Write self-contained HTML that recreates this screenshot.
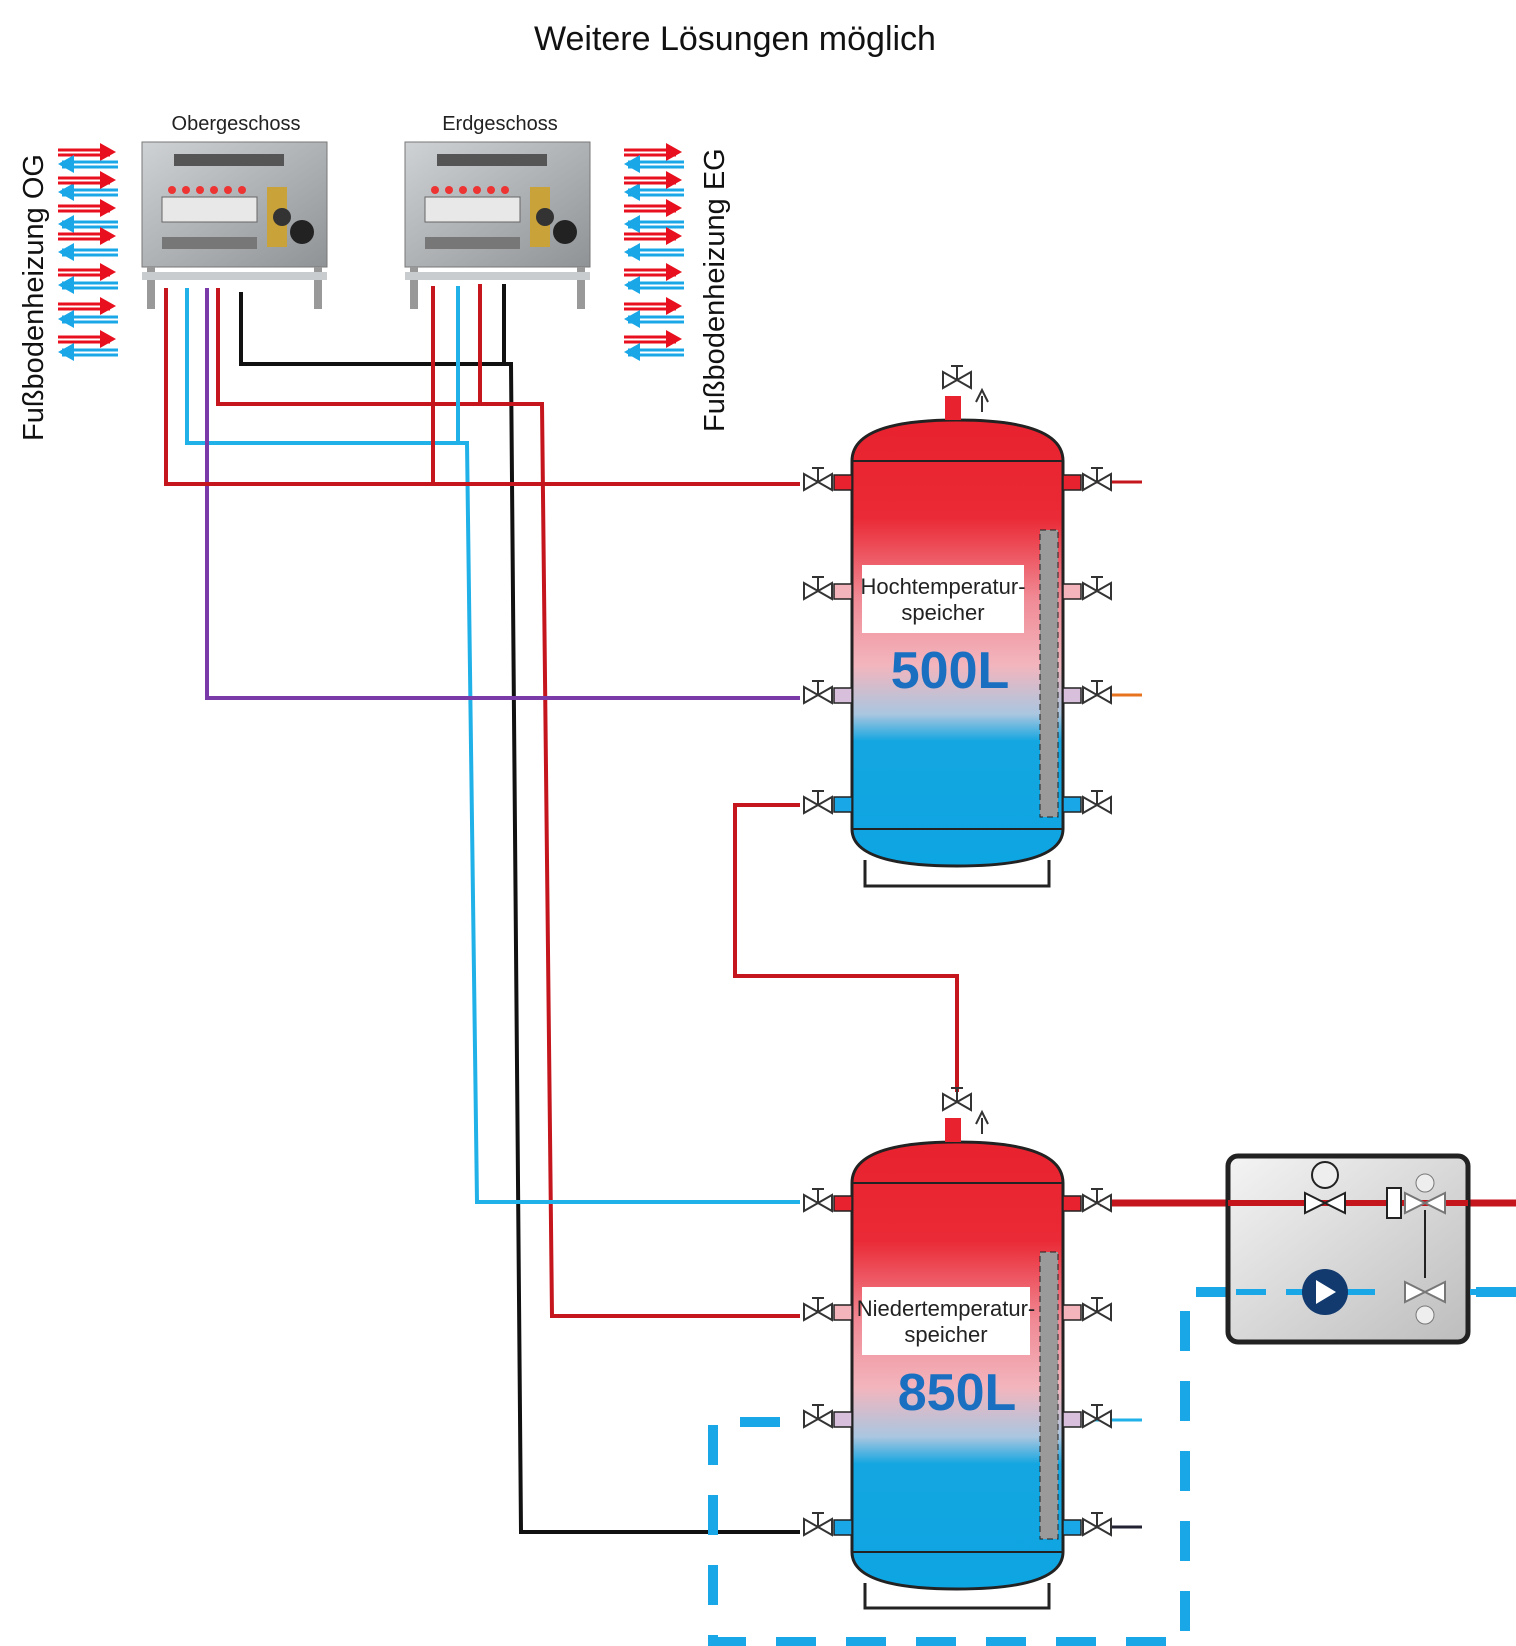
<!DOCTYPE html>
<html><head><meta charset="utf-8"><style>
html,body{margin:0;padding:0;background:#fff}
svg{display:block}
text{font-family:"Liberation Sans",sans-serif}
</style></head><body>
<svg width="1516" height="1646" viewBox="0 0 1516 1646" xmlns="http://www.w3.org/2000/svg">
<defs>
<linearGradient id="tg" x1="0" y1="0" x2="0" y2="1">
<stop offset="0" stop-color="#e8222e"/><stop offset="0.22" stop-color="#ea2a36"/>
<stop offset="0.4" stop-color="#f08a95"/><stop offset="0.55" stop-color="#f3b5bd"/>
<stop offset="0.66" stop-color="#a9c6e0"/><stop offset="0.72" stop-color="#14a6e0"/>
<stop offset="1" stop-color="#0ea5e3"/></linearGradient>
<linearGradient id="mg" x1="0" y1="0" x2="1" y2="1"><stop offset="0" stop-color="#cfd2d4"/><stop offset="1" stop-color="#8f9396"/></linearGradient>
<linearGradient id="bg" x1="0" y1="0" x2="1" y2="1"><stop offset="0" stop-color="#f4f4f4"/><stop offset="1" stop-color="#bdbdbd"/></linearGradient>
<g id="v"><path d="M-14,-8 L0,0 L-14,8 Z M14,-8 L0,0 L14,8 Z" fill="#fff" stroke="#333" stroke-width="2"/><path d="M0,0 V-14 M-6,-14 H6" stroke="#333" stroke-width="2"/></g>
<g id="arL"><line x1="4" y1="0" x2="60" y2="0" stroke="#1aa7e8" stroke-width="3"/><line x1="4" y1="5" x2="60" y2="5" stroke="#1aa7e8" stroke-width="3"/><path d="M0,2 L16,-7 L16,11 Z" fill="#1aa7e8"/></g>
<g id="arR"><line x1="0" y1="0" x2="52" y2="0" stroke="#e8101e" stroke-width="3"/><line x1="0" y1="5" x2="52" y2="5" stroke="#e8101e" stroke-width="3"/><path d="M58,2 L42,-7 L42,11 Z" fill="#e8101e"/></g>
<g id="man">
<rect x="0" y="0" width="185" height="125" fill="url(#mg)" stroke="#777"/>
<rect x="5" y="125" width="8" height="42" fill="#999"/><rect x="172" y="125" width="8" height="42" fill="#999"/>
<rect x="32" y="12" width="110" height="12" fill="#555"/>
<rect x="20" y="55" width="95" height="25" fill="#e8e8e8" stroke="#666"/>
<rect x="20" y="95" width="95" height="12" fill="#777"/>
<g fill="#e33"><circle cx="30" cy="48" r="4"/><circle cx="44" cy="48" r="4"/><circle cx="58" cy="48" r="4"/><circle cx="72" cy="48" r="4"/><circle cx="86" cy="48" r="4"/><circle cx="100" cy="48" r="4"/></g>
<rect x="125" y="45" width="20" height="60" fill="#c9a23a"/><circle cx="160" cy="90" r="12" fill="#222"/><circle cx="140" cy="75" r="9" fill="#333"/>
<rect x="0" y="130" width="185" height="8" fill="#c9cccf"/>
</g>
</defs>

<text x="735" y="50" font-size="34" text-anchor="middle" fill="#111">Weitere Lösungen möglich</text>
<text x="236" y="130" font-size="20" text-anchor="middle" fill="#222">Obergeschoss</text>
<text x="500" y="130" font-size="20" text-anchor="middle" fill="#222">Erdgeschoss</text>
<text transform="translate(43,441) rotate(-90)" font-size="29" fill="#111">Fußbodenheizung OG</text>
<text transform="translate(724,432) rotate(-90)" font-size="29" fill="#111">Fußbodenheizung EG</text>

<g transform="translate(58,0)">
<use href="#arR" y="150"/><use href="#arL" y="162"/><use href="#arL" y="190"/><use href="#arR" y="178"/>
<use href="#arR" y="206"/><use href="#arL" y="222"/><use href="#arR" y="234"/><use href="#arL" y="250"/>
<use href="#arR" y="270"/><use href="#arL" y="283"/><use href="#arR" y="304"/><use href="#arL" y="317"/>
<use href="#arR" y="337"/><use href="#arL" y="350"/></g>
<g transform="translate(624,0)">
<use href="#arR" y="150"/><use href="#arL" y="162"/><use href="#arL" y="190"/><use href="#arR" y="178"/>
<use href="#arR" y="206"/><use href="#arL" y="222"/><use href="#arR" y="234"/><use href="#arL" y="250"/>
<use href="#arR" y="270"/><use href="#arL" y="283"/><use href="#arR" y="304"/><use href="#arL" y="317"/>
<use href="#arR" y="337"/><use href="#arL" y="350"/></g>

<use href="#man" x="142" y="142"/>
<use href="#man" x="405" y="142"/>

<g fill="none" stroke-width="4">
<path d="M241,292 V364 H511 L521,1532 H800" stroke="#111"/>
<path d="M504,284 V364" stroke="#111"/>
<path d="M218,288 V404 H542 L552,1316 H800" stroke="#c4161c"/>
<path d="M480,284 V404" stroke="#c4161c"/>
<path d="M187,288 V443 H467 L477,1202 H800" stroke="#1fb1e8"/>
<path d="M458,286 V443" stroke="#1fb1e8"/>
<path d="M207,288 V698 H800" stroke="#7a3aa8"/>
<path d="M166,288 V484 H800" stroke="#c4161c"/>
<path d="M433,286 V484" stroke="#c4161c"/>
<path d="M800,805 H735 V976 H957 V1092" stroke="#c4161c"/>
<path d="M1090,482 H1142" stroke="#c4161c" stroke-width="3"/>
<path d="M1090,695 H1142" stroke="#e8731e" stroke-width="3"/>
<path d="M1090,1420 H1142" stroke="#1fb1e8" stroke-width="3"/>
<path d="M1090,1527 H1142" stroke="#223" stroke-width="3"/>
<path d="M1100,1203 H1516" stroke="#c4161c" stroke-width="7"/>
</g>

<g fill="none" stroke="#1aa7e8" stroke-width="10" stroke-dasharray="40,30">
<path d="M1516,1292 H1185 V1642 H713 V1422 H800"/>
</g>

<g>
<path d="M852,461 Q852,420 957,420 Q1063,420 1063,461 V829 Q1063,866 957,866 Q852,866 852,829 Z" fill="url(#tg)" stroke="#222" stroke-width="3"/>
<line x1="852" y1="461" x2="1063" y2="461" stroke="#222" stroke-width="2"/>
<line x1="852" y1="829" x2="1063" y2="829" stroke="#222" stroke-width="2"/>
<path d="M865,860 V886 H1049 V860" fill="none" stroke="#222" stroke-width="3"/>
<rect x="1040" y="530" width="18" height="287" fill="#9a9a9a" stroke="#222" stroke-dasharray="6,4"/>
<rect x="945" y="396" width="16" height="24" fill="#e8222e"/>
<use href="#v" x="957" y="380"/>
<path d="M982,412 V396 M976,402 L982,390 L988,402" stroke="#333" fill="none" stroke-width="2"/>
<rect x="862" y="565" width="162" height="68" fill="#fff"/>
<text x="943" y="594" font-size="22" text-anchor="middle" fill="#222">Hochtemperatur-</text>
<text x="943" y="620" font-size="22" text-anchor="middle" fill="#222">speicher</text>
<text x="950" y="688" font-size="52" font-weight="bold" text-anchor="middle" fill="#1a6fc0">500L</text>
<g stroke="#222" stroke-width="1.5">
<rect x="834" y="475" width="18" height="15" fill="#e8222e"/><rect x="1063" y="475" width="18" height="15" fill="#e8222e"/>
<rect x="834" y="584" width="18" height="15" fill="#f4b4bc"/><rect x="1063" y="584" width="18" height="15" fill="#f4b4bc"/>
<rect x="834" y="688" width="18" height="15" fill="#d8c0dd"/><rect x="1063" y="688" width="18" height="15" fill="#d8c0dd"/>
<rect x="834" y="797" width="18" height="15" fill="#1aa7e8"/><rect x="1063" y="797" width="18" height="15" fill="#1aa7e8"/>
</g>
<use href="#v" x="818" y="482"/><use href="#v" x="1097" y="482"/>
<use href="#v" x="818" y="591"/><use href="#v" x="1097" y="591"/>
<use href="#v" x="818" y="695"/><use href="#v" x="1097" y="695"/>
<use href="#v" x="818" y="805"/><use href="#v" x="1097" y="805"/>
</g>
<g transform="translate(0,690)">
<path d="M852,493 Q852,452 957,452 Q1063,452 1063,493 V862 Q1063,899 957,899 Q852,899 852,862 Z" fill="url(#tg)" stroke="#222" stroke-width="3"/>
<line x1="852" y1="493" x2="1063" y2="493" stroke="#222" stroke-width="2"/>
<line x1="852" y1="862" x2="1063" y2="862" stroke="#222" stroke-width="2"/>
<path d="M865,893 V918 H1049 V893" fill="none" stroke="#222" stroke-width="3"/>
<rect x="1040" y="562" width="18" height="287" fill="#9a9a9a" stroke="#222" stroke-dasharray="6,4"/>
<rect x="945" y="428" width="16" height="24" fill="#e8222e"/>
<use href="#v" x="957" y="412"/>
<path d="M982,444 V428 M976,434 L982,422 L988,434" stroke="#333" fill="none" stroke-width="2"/>
<rect x="862" y="597" width="168" height="68" fill="#fff"/>
<text x="946" y="626" font-size="22" text-anchor="middle" fill="#222">Niedertemperatur-</text>
<text x="946" y="652" font-size="22" text-anchor="middle" fill="#222">speicher</text>
<text x="957" y="720" font-size="52" font-weight="bold" text-anchor="middle" fill="#1a6fc0">850L</text>
<g stroke="#222" stroke-width="1.5">
<rect x="834" y="506" width="18" height="15" fill="#e8222e"/><rect x="1063" y="506" width="18" height="15" fill="#e8222e"/>
<rect x="834" y="615" width="18" height="15" fill="#f4b4bc"/><rect x="1063" y="615" width="18" height="15" fill="#f4b4bc"/>
<rect x="834" y="722" width="18" height="15" fill="#d8c0dd"/><rect x="1063" y="722" width="18" height="15" fill="#d8c0dd"/>
<rect x="834" y="830" width="18" height="15" fill="#1aa7e8"/><rect x="1063" y="830" width="18" height="15" fill="#1aa7e8"/>
</g>
<use href="#v" x="818" y="513"/><use href="#v" x="1097" y="513"/>
<use href="#v" x="818" y="622"/><use href="#v" x="1097" y="622"/>
<use href="#v" x="818" y="729"/><use href="#v" x="1097" y="729"/>
<use href="#v" x="818" y="837"/><use href="#v" x="1097" y="837"/>
</g>

<rect x="1228" y="1156" width="240" height="186" rx="10" fill="url(#bg)" stroke="#222" stroke-width="5"/>
<path d="M1228,1203 H1468" stroke="#c4161c" stroke-width="6"/>
<path d="M1236,1292 H1310 M1345,1292 H1385 M1470,1292 H1500" stroke="#1aa7e8" stroke-width="6" stroke-dasharray="30,20"/>
<circle cx="1325" cy="1292" r="23" fill="#123a6e"/><path d="M1316,1280 L1336,1292 L1316,1304 Z" fill="#fff"/>
<circle cx="1325" cy="1175" r="13" fill="#eee" stroke="#222" stroke-width="2"/>
<path d="M1305,1193 L1325,1203 L1305,1213 Z M1345,1193 L1325,1203 L1345,1213 Z" fill="#fff" stroke="#222" stroke-width="2"/>
<rect x="1387" y="1188" width="14" height="30" fill="#fff" stroke="#222" stroke-width="2"/>
<path d="M1405,1193 L1425,1203 L1405,1213 Z M1445,1193 L1425,1203 L1445,1213 Z" fill="#fff" stroke="#777" stroke-width="2"/>
<circle cx="1425" cy="1183" r="9" fill="#eee" stroke="#777"/>
<path d="M1425,1210 V1278" stroke="#222" stroke-width="2"/>
<path d="M1405,1282 L1425,1292 L1405,1302 Z M1445,1282 L1425,1292 L1445,1302 Z" fill="#fff" stroke="#777" stroke-width="2"/>
<circle cx="1425" cy="1315" r="9" fill="#eee" stroke="#777"/>
</svg>
</body></html>
